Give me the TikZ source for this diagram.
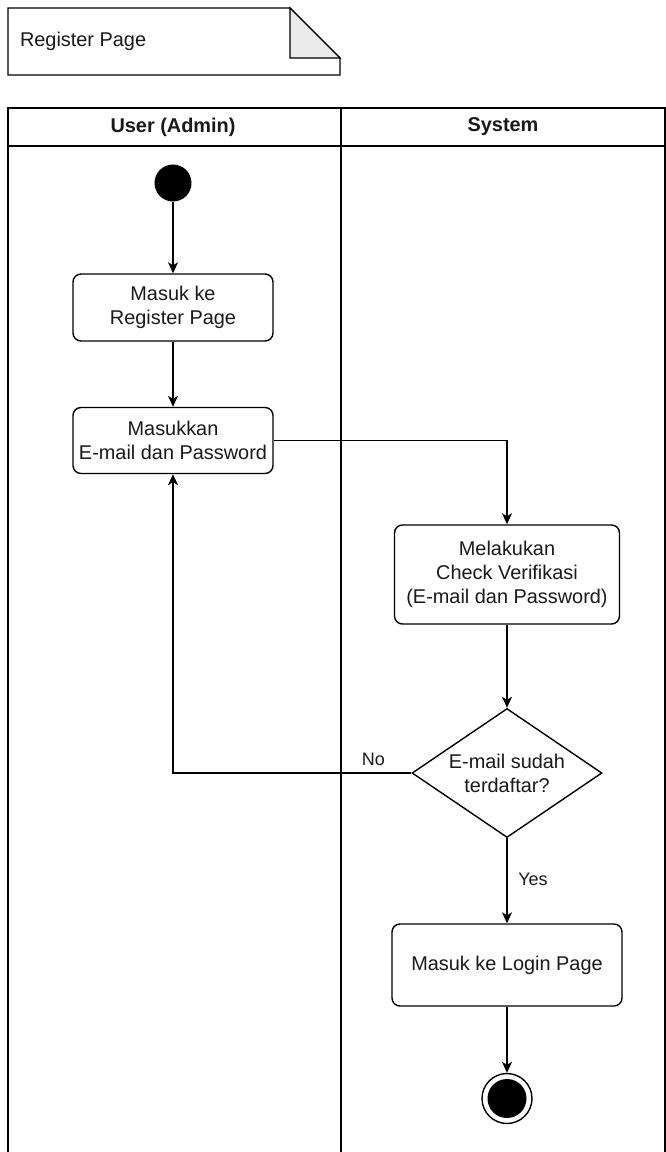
\documentclass[tikz,border=0pt]{standalone}
\usepackage{fontspec}
\setmainfont{Liberation Sans}
\usetikzlibrary{shapes.geometric,arrows.meta}
\begin{document}
\begin{tikzpicture}[x=1pt,y=-1pt,
  line width=1.4pt,
  txt/.style={font=\fontsize{19.9}{24}\selectfont, text=black!90},
  action/.style={txt, draw, rounded corners=8pt, align=center, inner sep=0pt},
  decision/.style={txt, draw, diamond, aspect=1.47, align=center, inner sep=0pt,
    minimum width=190pt, minimum height=129pt},
  flow/.style={-{Stealth[length=11pt,width=10pt,inset=3pt]}},
  lanehead/.style={txt, font=\fontsize{19.9}{24}\selectfont\bfseries},
  branch/.style={txt, font=\fontsize{18}{21}\selectfont}]
\useasboundingbox (0,0) rectangle (666,1152);

% note in the top left corner
\draw (8,8) -- (290,8) -- (340,58) -- (340,75) -- (8,75) -- cycle;
\filldraw[fill=black!8] (290,8) -- (340,58) -- (290,58) -- cycle;
\node[txt, anchor=west] (noteText) at (16,41.5) {Register Page};

% swimlanes
\begin{scope}
  \clip (0,0) rectangle (666,1152);
  \draw (8,108) rectangle (665,1170);
  \draw (8,146) -- (665,146);
  \draw (341,108) -- (341,1170);
\end{scope}
\node[lanehead] (laneUser) at (173,127) {User (Admin)};
\node[lanehead] (laneSystem) at (503,127) {System};

% activity nodes
\node[circle, fill=black, minimum size=37pt, inner sep=0pt] (start) at (173,183) {};
\node[action, minimum width=200pt, minimum height=67pt] (enterPage) at (173,307.5) {Masuk ke\\Register Page};
\node[action, minimum width=200pt, minimum height=66pt] (enterData) at (173,440.5) {Masukkan\\E-mail dan Password};
\node[action, minimum width=225pt, minimum height=99pt] (verify) at (507,574.5) {Melakukan\\Check Verifikasi\\(E-mail dan Password)};
\node[decision] (registered) at (507,773) {E-mail sudah\\terdaftar?};
\node[action, minimum width=230pt, minimum height=82pt] (login) at (507,965) {Masuk ke Login Page};
\node[circle, draw, minimum size=50pt, inner sep=0pt,
  path picture={\fill (path picture bounding box.center) circle (19.5pt);}] (finish) at (507,1098.5) {};

% connectors
\draw[flow] (start) -- (enterPage);
\draw[flow] (enterPage) -- (enterData);
\draw[flow] (enterData.east) -| (verify.north);
\draw[flow] (verify) -- (registered);
\draw[flow] (registered.west) -| (enterData.south);
\draw[flow] (registered.south) -- (login.north);
\draw[flow] (login) -- (finish);

% branch labels
\node[branch] (noLabel) at (373.5,759) {No};
\node[branch] (yesLabel) at (533,879) {Yes};
\end{tikzpicture}
\end{document}
